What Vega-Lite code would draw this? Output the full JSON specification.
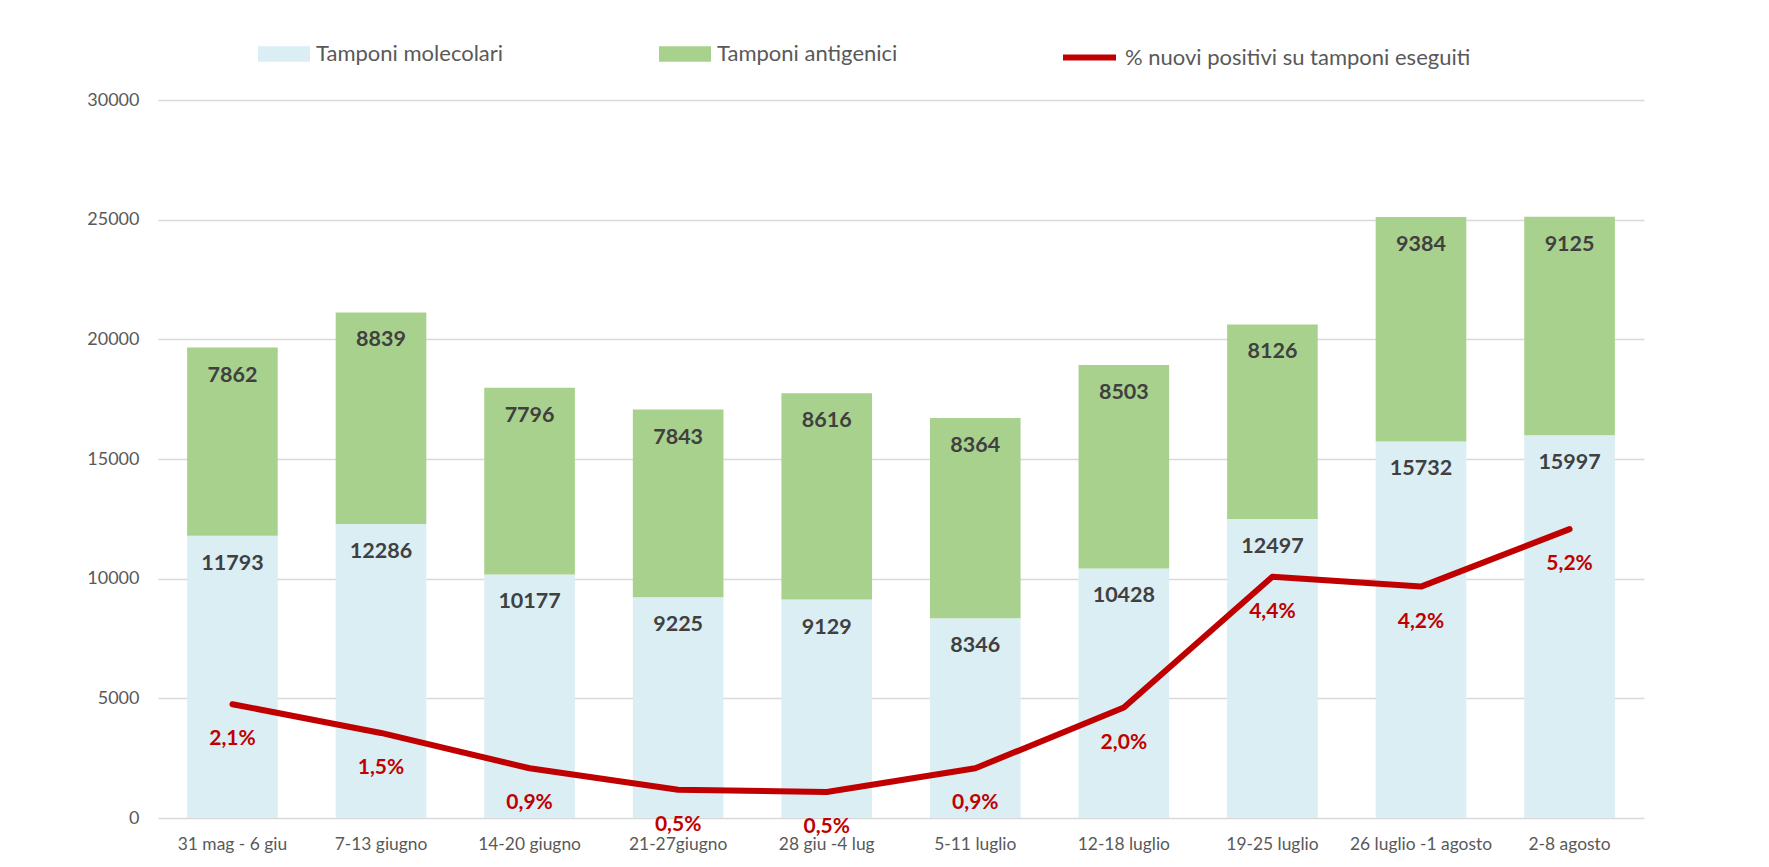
{
  "$schema": "https://vega.github.io/schema/vega-lite/v6.json",
  "width": 1486,
  "height": 718,
  "autosize": {"type": "none"},
  "padding": {"left": 158, "top": 100, "right": 125, "bottom": 49},
  "background": "white",
  "config": {
    "locale": {"number": {"decimal": ",", "thousands": ".", "grouping": [3], "currency": ["€", ""]}},
    "font": "Lato",
    "view": {"stroke": null}
  },
  "datasets": {
    "tamponi": [
      {"settimana": "31 mag - 6 giu", "serie": "Tamponi molecolari", "ord": 1, "valore": 11793},
      {"settimana": "31 mag - 6 giu", "serie": "Tamponi antigenici", "ord": 2, "valore": 7862},
      {"settimana": "7-13 giugno", "serie": "Tamponi molecolari", "ord": 1, "valore": 12286},
      {"settimana": "7-13 giugno", "serie": "Tamponi antigenici", "ord": 2, "valore": 8839},
      {"settimana": "14-20 giugno", "serie": "Tamponi molecolari", "ord": 1, "valore": 10177},
      {"settimana": "14-20 giugno", "serie": "Tamponi antigenici", "ord": 2, "valore": 7796},
      {"settimana": "21-27giugno", "serie": "Tamponi molecolari", "ord": 1, "valore": 9225},
      {"settimana": "21-27giugno", "serie": "Tamponi antigenici", "ord": 2, "valore": 7843},
      {"settimana": "28 giu -4 lug", "serie": "Tamponi molecolari", "ord": 1, "valore": 9129},
      {"settimana": "28 giu -4 lug", "serie": "Tamponi antigenici", "ord": 2, "valore": 8616},
      {"settimana": "5-11 luglio", "serie": "Tamponi molecolari", "ord": 1, "valore": 8346},
      {"settimana": "5-11 luglio", "serie": "Tamponi antigenici", "ord": 2, "valore": 8364},
      {"settimana": "12-18 luglio", "serie": "Tamponi molecolari", "ord": 1, "valore": 10428},
      {"settimana": "12-18 luglio", "serie": "Tamponi antigenici", "ord": 2, "valore": 8503},
      {"settimana": "19-25 luglio", "serie": "Tamponi molecolari", "ord": 1, "valore": 12497},
      {"settimana": "19-25 luglio", "serie": "Tamponi antigenici", "ord": 2, "valore": 8126},
      {"settimana": "26 luglio -1 agosto", "serie": "Tamponi molecolari", "ord": 1, "valore": 15732},
      {"settimana": "26 luglio -1 agosto", "serie": "Tamponi antigenici", "ord": 2, "valore": 9384},
      {"settimana": "2-8 agosto", "serie": "Tamponi molecolari", "ord": 1, "valore": 15997},
      {"settimana": "2-8 agosto", "serie": "Tamponi antigenici", "ord": 2, "valore": 9125}
    ],
    "positivi": [
      {"settimana": "31 mag - 6 giu", "perc": 0.0206},
      {"settimana": "7-13 giugno", "perc": 0.0154},
      {"settimana": "14-20 giugno", "perc": 0.0090},
      {"settimana": "21-27giugno", "perc": 0.0051},
      {"settimana": "28 giu -4 lug", "perc": 0.0047},
      {"settimana": "5-11 luglio", "perc": 0.0090},
      {"settimana": "12-18 luglio", "perc": 0.0200},
      {"settimana": "19-25 luglio", "perc": 0.0437},
      {"settimana": "26 luglio -1 agosto", "perc": 0.0419},
      {"settimana": "2-8 agosto", "perc": 0.0523}
    ]
  },
  "encoding": {
    "x": {
      "field": "settimana",
      "type": "nominal",
      "sort": null,
      "scale": {
        "domain": ["31 mag - 6 giu", "7-13 giugno", "14-20 giugno", "21-27giugno", "28 giu -4 lug", "5-11 luglio", "12-18 luglio", "19-25 luglio", "26 luglio -1 agosto", "2-8 agosto"],
        "paddingInner": 0.39,
        "paddingOuter": 0.196
      },
      "axis": {
        "title": null,
        "labelAngle": 0,
        "labelFontSize": 17.4,
        "labelColor": "#595959",
        "labelPadding": 17,
        "ticks": false,
        "domain": false,
        "grid": false,
        "labelLimit": 300
      }
    }
  },
  "layer": [
    {
      "data": {"name": "tamponi"},
      "encoding": {
        "y": {
          "field": "valore",
          "type": "quantitative",
          "stack": "zero",
          "scale": {"domain": [0, 30000], "nice": false},
          "axis": {
            "title": null,
            "values": [0, 5000, 10000, 15000, 20000, 25000, 30000],
            "format": "d",
            "labelFontSize": 18,
            "labelColor": "#595959",
            "labelPadding": 19,
            "ticks": false,
            "domain": false,
            "gridColor": "#D9D9D9",
            "gridWidth": 1.5
          }
        },
        "order": {"field": "ord", "type": "quantitative"}
      },
      "layer": [
        {
          "mark": {"type": "bar"},
          "encoding": {
            "fill": {
              "field": "serie",
              "type": "nominal",
              "scale": {"domain": ["Tamponi molecolari", "Tamponi antigenici"], "range": ["#DAEEF3", "#A9D18E"]},
              "legend": {
                "orient": "none",
                "legendX": 100,
                "legendY": -72,
                "direction": "horizontal",
                "title": null,
                "symbolType": "M-1,-0.3H1V0.3H-1Z",
                "symbolSize": 2704,
                "symbolStrokeWidth": 0,
                "labelFontSize": 22,
                "labelColor": "#595959",
                "labelOffset": 6,
                "columnPadding": 155,
                "labelLimit": 400
              }
            }
          }
        },
        {
          "mark": {"type": "text", "dy": 28, "baseline": "middle", "align": "center", "fontSize": 21.5, "fontWeight": "bold", "fill": "#404040"},
          "encoding": {
            "text": {"field": "valore", "type": "quantitative", "format": "d"}
          }
        }
      ]
    },
    {
      "data": {"name": "positivi"},
      "encoding": {
        "y": {
          "field": "perc",
          "type": "quantitative",
          "scale": {"domain": [0, 0.13], "nice": false},
          "axis": null
        }
      },
      "layer": [
        {
          "mark": {"type": "line", "strokeWidth": 6, "strokeJoin": "round", "strokeCap": "round"},
          "encoding": {
            "stroke": {
              "datum": "% nuovi positivi su tamponi eseguiti",
              "type": "nominal",
              "scale": {"range": ["#C00000"]},
              "legend": {
                "orient": "none",
                "legendX": 902,
                "legendY": -72,
                "title": null,
                "symbolType": "stroke",
                "symbolSize": 2809,
                "symbolStrokeWidth": 6,
                "labelFontSize": 22,
                "labelColor": "#595959",
                "labelOffset": 6,
                "labelLimit": 500
              }
            }
          }
        },
        {
          "mark": {"type": "text", "dy": 35, "baseline": "middle", "align": "center", "fontSize": 21, "fontWeight": "bold", "fill": "#C00000"},
          "encoding": {
            "text": {"field": "perc", "type": "quantitative", "format": ".1%"}
          }
        }
      ]
    }
  ],
  "resolve": {"scale": {"y": "independent"}}
}
